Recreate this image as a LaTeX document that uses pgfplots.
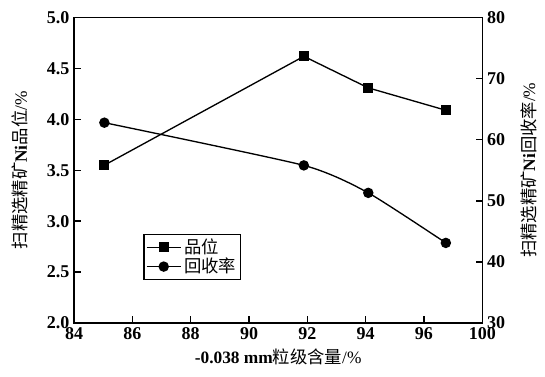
\documentclass[border=0pt]{standalone}
\usepackage{pgfplots}
\pgfplotsset{compat=1.18}
\usepackage{fontspec}
\setmainfont{Liberation Serif}
\newfontfamily\cjk{Noto Sans CJK SC}
\begin{document}
\begin{tikzpicture}
\useasboundingbox (-55.5pt,-40pt) rectangle (353pt,242pt);
\pgfplotsset{
  every axis/.append style={
    scale only axis, width=306pt, height=228.75pt,
    at={(0pt,0pt)}, anchor=south west,
    axis line style={line width=1.2pt},
    tick style={line width=1.1pt, black},
    major tick length=5pt,
    ticklabel style={font=\fontsize{13.5}{13.5}\selectfont\bfseries},
    /pgf/number format/assume math mode=true,
  }
}
\begin{axis}[
  xmin=84, xmax=98,
  xtick={84,86,88,90,92,94,96,98},
  xticklabels={84,86,88,90,92,94,96,100},
  xtick pos=bottom,
  ymin=2, ymax=5,
  ytick={2,2.5,...,5},
  yticklabel style={/pgf/number format/.cd, fixed, fixed zerofill, precision=1},
  ytick pos=left,
  xlabel={\textbf{-0.038 mm}{\cjk 粒级含量}/\%},
  ylabel={{\cjk 扫精选精矿}\textbf{Ni}{\cjk 品位}/\%},
  every axis x label/.style={at={(axis description cs:0.5,-0.111)}, anchor=center, font=\fontsize{13}{15}\selectfont},
  every axis y label/.style={at={(axis description cs:-0.132,0.5)}, rotate=90, anchor=center, font=\fontsize{13}{15}\selectfont},
  legend style={at={(0.17,0.14)}, anchor=south west, draw=black, line width=0.8pt,
    font=\fontsize{13}{15}\selectfont\cjk, inner sep=1.5pt, row sep=-2pt},
  legend cell align=left,
  legend image code/.code={
    \draw[mark repeat=2, mark phase=2] plot coordinates {(0cm,0cm) (0.45cm,0cm) (0.9cm,0cm)};
  },
]
\addplot[black, line width=1pt, mark=square*, mark size=3.2pt, mark options={solid}] coordinates {
  (85.04,3.55) (91.88,4.62) (94.09,4.31) (96.75,4.09)
};
\addlegendentry{品位}
\addlegendimage{black, line width=1pt, mark=*, mark size=3.4pt}
\addlegendentry{回收率}
\end{axis}
\begin{axis}[
  xmin=84, xmax=98,
  hide x axis,
  axis y line*=right,
  ymin=30, ymax=80,
  ytick={30,40,...,80},
  ytick pos=right,
  ylabel={{\cjk 扫精选精矿}\textbf{Ni}{\cjk 回收率}/\%},
  every axis y label/.style={at={(axis description cs:1.113,0.5)}, rotate=90, anchor=center, font=\fontsize{13}{15}\selectfont},
]
\addplot[black, line width=1pt, mark=*, mark size=3.4pt, smooth, tension=0.35] coordinates {
  (85.04,62.8) (91.88,55.8) (94.09,51.3) (96.75,43.1)
};
\end{axis}
\end{tikzpicture}
\end{document}
